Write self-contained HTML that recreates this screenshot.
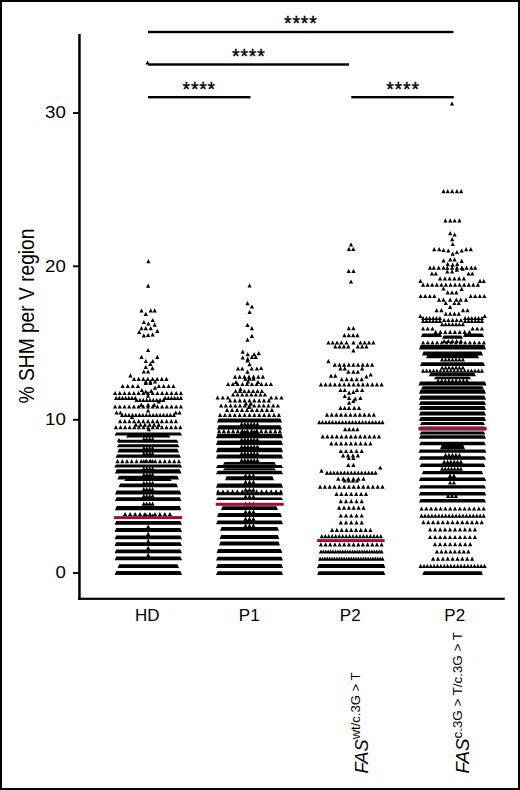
<!DOCTYPE html>
<html><head><meta charset="utf-8"><style>
html,body{margin:0;padding:0;background:#fff;}
body{width:520px;height:790px;overflow:hidden;position:relative;}
svg{position:absolute;left:0;top:0;}
text{font-family:"Liberation Sans",sans-serif;fill:#000;}
</style></head><body>
<svg width="520" height="790" viewBox="0 0 520 790">
<rect x="1" y="1" width="518" height="788" fill="#fff" stroke="#000" stroke-width="2"/>
<g fill="#000">
<rect x="78.2" y="34" width="2.5" height="566"/>
<rect x="78.2" y="597.7" width="426.5" height="2.2"/>
<rect x="73" y="112.1" width="6" height="1.9"/>
<rect x="73" y="265.35" width="6" height="1.9"/>
<rect x="73" y="418.85" width="6" height="1.9"/>
<rect x="73" y="572.1" width="6" height="1.9"/>
<rect x="148" y="30.8" width="305.5" height="2.4"/>
<rect x="148" y="63.3" width="201" height="2.4"/>
<rect x="148" y="96" width="102.5" height="2.4"/>
<rect x="351.3" y="96" width="102.5" height="2.4"/>
</g>
<path fill="#000" d="M146.3 263.2h4.2l-2.1 -4.2zM146.0 287.8h4.2l-2.1 -4.2zM139.4 312.6h4.2l-2.1 -4.2zM148.6 312.4h4.2l-2.1 -4.2zM152.6 312.4h4.2l-2.1 -4.2zM143.7 315.9h4.2l-2.1 -4.2zM150.6 322.1h4.2l-2.1 -4.2zM141.8 324.1h4.2l-2.1 -4.2zM146.3 325.6h4.2l-2.1 -4.2zM152.6 326.7h4.2l-2.1 -4.2zM139.4 330.3h4.2l-2.1 -4.2zM143.7 330.3h4.2l-2.1 -4.2zM148.6 330.3h4.2l-2.1 -4.2zM137.1 333.9h4.2l-2.1 -4.2zM155.2 332.9h4.2l-2.1 -4.2zM141.7 337.5h4.2l-2.1 -4.2zM146.0 337.1h4.2l-2.1 -4.2zM150.6 336.4h4.2l-2.1 -4.2zM146.0 352.1h4.2l-2.1 -4.2zM139.4 359.0h4.2l-2.1 -4.2zM155.2 359.0h4.2l-2.1 -4.2zM143.7 363.1h4.2l-2.1 -4.2zM150.6 363.1h4.2l-2.1 -4.2zM148.3 365.9h4.2l-2.1 -4.2zM143.7 369.0h4.2l-2.1 -4.2zM150.3 370.3h4.2l-2.1 -4.2zM141.7 373.6h4.2l-2.1 -4.2zM146.0 373.6h4.2l-2.1 -4.2zM128.3 377.4h4.2l-2.1 -4.2zM143.7 383.6h4.2l-2.1 -4.2zM148.3 383.6h4.2l-2.1 -4.2zM152.9 383.6h4.2l-2.1 -4.2zM143.7 385.1h4.2l-2.1 -4.2zM148.3 385.1h4.2l-2.1 -4.2zM152.9 389.8h4.2l-2.1 -4.2zM139.8 392.1h4.2l-2.1 -4.2zM143.7 393.6h4.2l-2.1 -4.2zM149.1 392.9h4.2l-2.1 -4.2zM145.9 397.7h4.2l-2.1 -4.2zM156.7 403.6h4.2l-2.1 -4.2zM139.1 406.7h4.2l-2.1 -4.2zM146.0 406.7h4.2l-2.1 -4.2zM152.1 406.7h4.2l-2.1 -4.2zM146.0 412.6h4.2l-2.1 -4.2zM114.4 414.6h4.2l-2.1 -4.2zM118.3 414.6h4.2l-2.1 -4.2zM173.7 414.6h4.2l-2.1 -4.2zM177.5 414.6h4.2l-2.1 -4.2zM129.9 418.9h4.2l-2.1 -4.2zM146.7 431.3h4.2l-2.1 -4.2zM116.9 441.9h4.2l-2.1 -4.2zM145.4 64.6h4.2l-2.1 -4.2zM132.0 380.9h4.2l-2.1 -4.2zM136.6 380.9h4.2l-2.1 -4.2zM141.2 380.9h4.2l-2.1 -4.2zM145.8 380.9h4.2l-2.1 -4.2zM150.5 380.9h4.2l-2.1 -4.2zM155.1 380.9h4.2l-2.1 -4.2zM159.7 380.9h4.2l-2.1 -4.2zM164.3 380.9h4.2l-2.1 -4.2zM120.5 388.1h4.2l-2.1 -4.2zM125.6 388.1h4.2l-2.1 -4.2zM130.7 388.1h4.2l-2.1 -4.2zM135.8 388.1h4.2l-2.1 -4.2zM156.8 388.1h4.2l-2.1 -4.2zM161.6 388.1h4.2l-2.1 -4.2zM166.5 388.1h4.2l-2.1 -4.2zM171.3 388.1h4.2l-2.1 -4.2zM113.0 395.1h4.2l-2.1 -4.2zM117.7 395.1h4.2l-2.1 -4.2zM122.4 395.1h4.2l-2.1 -4.2zM127.1 395.1h4.2l-2.1 -4.2zM131.8 395.1h4.2l-2.1 -4.2zM136.5 395.1h4.2l-2.1 -4.2zM141.2 395.1h4.2l-2.1 -4.2zM145.9 395.1h4.2l-2.1 -4.2zM150.6 395.1h4.2l-2.1 -4.2zM155.3 395.1h4.2l-2.1 -4.2zM160.0 395.1h4.2l-2.1 -4.2zM164.7 395.1h4.2l-2.1 -4.2zM169.4 395.1h4.2l-2.1 -4.2zM174.1 395.1h4.2l-2.1 -4.2zM178.8 395.1h4.2l-2.1 -4.2zM114.0 399.9h4.2l-2.1 -4.2zM117.2 399.9h4.2l-2.1 -4.2zM120.4 399.9h4.2l-2.1 -4.2zM123.6 399.9h4.2l-2.1 -4.2zM126.7 399.9h4.2l-2.1 -4.2zM129.9 399.9h4.2l-2.1 -4.2zM133.1 399.9h4.2l-2.1 -4.2zM163.0 399.9h4.2l-2.1 -4.2zM166.2 399.9h4.2l-2.1 -4.2zM169.3 399.9h4.2l-2.1 -4.2zM172.5 399.9h4.2l-2.1 -4.2zM175.6 399.9h4.2l-2.1 -4.2zM178.8 399.9h4.2l-2.1 -4.2zM134.5 401.9h4.2l-2.1 -4.2zM137.8 401.9h4.2l-2.1 -4.2zM141.2 401.9h4.2l-2.1 -4.2zM144.6 401.9h4.2l-2.1 -4.2zM147.9 401.9h4.2l-2.1 -4.2zM151.2 401.9h4.2l-2.1 -4.2zM154.6 401.9h4.2l-2.1 -4.2zM158.0 401.9h4.2l-2.1 -4.2zM161.3 401.9h4.2l-2.1 -4.2zM113.0 408.6h4.2l-2.1 -4.2zM117.7 408.6h4.2l-2.1 -4.2zM122.4 408.6h4.2l-2.1 -4.2zM127.1 408.6h4.2l-2.1 -4.2zM131.8 408.6h4.2l-2.1 -4.2zM136.5 408.6h4.2l-2.1 -4.2zM141.2 408.6h4.2l-2.1 -4.2zM145.9 408.6h4.2l-2.1 -4.2zM150.6 408.6h4.2l-2.1 -4.2zM155.3 408.6h4.2l-2.1 -4.2zM160.0 408.6h4.2l-2.1 -4.2zM164.7 408.6h4.2l-2.1 -4.2zM169.4 408.6h4.2l-2.1 -4.2zM174.1 408.6h4.2l-2.1 -4.2zM178.8 408.6h4.2l-2.1 -4.2zM120.0 416.9h4.2l-2.1 -4.2zM123.5 416.9h4.2l-2.1 -4.2zM126.9 416.9h4.2l-2.1 -4.2zM130.4 416.9h4.2l-2.1 -4.2zM133.8 416.9h4.2l-2.1 -4.2zM137.3 416.9h4.2l-2.1 -4.2zM140.7 416.9h4.2l-2.1 -4.2zM144.2 416.9h4.2l-2.1 -4.2zM147.6 416.9h4.2l-2.1 -4.2zM151.1 416.9h4.2l-2.1 -4.2zM154.5 416.9h4.2l-2.1 -4.2zM158.0 416.9h4.2l-2.1 -4.2zM161.4 416.9h4.2l-2.1 -4.2zM164.9 416.9h4.2l-2.1 -4.2zM168.3 416.9h4.2l-2.1 -4.2zM171.8 416.9h4.2l-2.1 -4.2zM118.0 423.3h4.2l-2.1 -4.2zM122.7 423.3h4.2l-2.1 -4.2zM127.3 423.3h4.2l-2.1 -4.2zM132.0 423.3h4.2l-2.1 -4.2zM136.6 423.3h4.2l-2.1 -4.2zM141.2 423.3h4.2l-2.1 -4.2zM145.9 423.3h4.2l-2.1 -4.2zM150.6 423.3h4.2l-2.1 -4.2zM155.2 423.3h4.2l-2.1 -4.2zM159.8 423.3h4.2l-2.1 -4.2zM164.5 423.3h4.2l-2.1 -4.2zM169.2 423.3h4.2l-2.1 -4.2zM173.8 423.3h4.2l-2.1 -4.2zM133.8 426.7h4.2l-2.1 -4.2zM138.4 426.7h4.2l-2.1 -4.2zM142.9 426.7h4.2l-2.1 -4.2zM147.5 426.7h4.2l-2.1 -4.2zM152.0 426.7h4.2l-2.1 -4.2zM156.6 426.7h4.2l-2.1 -4.2zM113.8 429.3h4.2l-2.1 -4.2zM118.4 429.3h4.2l-2.1 -4.2zM123.0 429.3h4.2l-2.1 -4.2zM127.6 429.3h4.2l-2.1 -4.2zM132.2 429.3h4.2l-2.1 -4.2zM136.8 429.3h4.2l-2.1 -4.2zM141.4 429.3h4.2l-2.1 -4.2zM146.0 429.3h4.2l-2.1 -4.2zM150.6 429.3h4.2l-2.1 -4.2zM155.2 429.3h4.2l-2.1 -4.2zM159.8 429.3h4.2l-2.1 -4.2zM164.4 429.3h4.2l-2.1 -4.2zM169.0 429.3h4.2l-2.1 -4.2zM173.6 429.3h4.2l-2.1 -4.2zM178.2 429.3h4.2l-2.1 -4.2zM115.5 463.3h4.2l-2.1 -4.2zM120.2 463.3h4.2l-2.1 -4.2zM124.9 463.3h4.2l-2.1 -4.2zM129.6 463.3h4.2l-2.1 -4.2zM134.4 463.3h4.2l-2.1 -4.2zM139.1 463.3h4.2l-2.1 -4.2zM143.8 463.3h4.2l-2.1 -4.2zM148.5 463.3h4.2l-2.1 -4.2zM153.2 463.3h4.2l-2.1 -4.2zM157.9 463.3h4.2l-2.1 -4.2zM162.7 463.3h4.2l-2.1 -4.2zM167.4 463.3h4.2l-2.1 -4.2zM172.1 463.3h4.2l-2.1 -4.2zM176.8 463.3h4.2l-2.1 -4.2zM123.0 516.1h4.2l-2.1 -4.2zM128.0 516.1h4.2l-2.1 -4.2zM133.0 516.1h4.2l-2.1 -4.2zM137.9 516.1h4.2l-2.1 -4.2zM142.9 516.1h4.2l-2.1 -4.2zM147.9 516.1h4.2l-2.1 -4.2zM152.9 516.1h4.2l-2.1 -4.2zM157.8 516.1h4.2l-2.1 -4.2zM162.8 516.1h4.2l-2.1 -4.2zM167.8 516.1h4.2l-2.1 -4.2zM141.7 440.9h4.2l-2.1 -4.2zM144.6 440.9h4.2l-2.1 -4.2zM147.6 440.9h4.2l-2.1 -4.2zM150.5 440.9h4.2l-2.1 -4.2zM141.7 450.3h4.2l-2.1 -4.2zM144.6 450.3h4.2l-2.1 -4.2zM147.6 450.3h4.2l-2.1 -4.2zM150.5 450.3h4.2l-2.1 -4.2zM141.7 455.5h4.2l-2.1 -4.2zM144.6 455.5h4.2l-2.1 -4.2zM147.6 455.5h4.2l-2.1 -4.2zM150.5 455.5h4.2l-2.1 -4.2zM141.7 463.2h4.2l-2.1 -4.2zM144.6 463.2h4.2l-2.1 -4.2zM147.6 463.2h4.2l-2.1 -4.2zM150.5 463.2h4.2l-2.1 -4.2zM141.7 470.8h4.2l-2.1 -4.2zM144.6 470.8h4.2l-2.1 -4.2zM147.6 470.8h4.2l-2.1 -4.2zM150.5 470.8h4.2l-2.1 -4.2zM141.7 476.6h4.2l-2.1 -4.2zM144.6 476.6h4.2l-2.1 -4.2zM147.6 476.6h4.2l-2.1 -4.2zM150.5 476.6h4.2l-2.1 -4.2zM141.7 484.9h4.2l-2.1 -4.2zM144.6 484.9h4.2l-2.1 -4.2zM147.6 484.9h4.2l-2.1 -4.2zM150.5 484.9h4.2l-2.1 -4.2zM141.7 491.1h4.2l-2.1 -4.2zM144.6 491.1h4.2l-2.1 -4.2zM147.6 491.1h4.2l-2.1 -4.2zM150.5 491.1h4.2l-2.1 -4.2zM141.7 498.0h4.2l-2.1 -4.2zM144.6 498.0h4.2l-2.1 -4.2zM147.6 498.0h4.2l-2.1 -4.2zM150.5 498.0h4.2l-2.1 -4.2zM141.7 505.8h4.2l-2.1 -4.2zM144.6 505.8h4.2l-2.1 -4.2zM147.6 505.8h4.2l-2.1 -4.2zM150.5 505.8h4.2l-2.1 -4.2zM141.7 517.6h4.2l-2.1 -4.2zM144.6 517.6h4.2l-2.1 -4.2zM147.6 517.6h4.2l-2.1 -4.2zM150.5 517.6h4.2l-2.1 -4.2zM146.1 528.6h4.2l-2.1 -4.2zM146.1 535.8h4.2l-2.1 -4.2zM146.1 542.9h4.2l-2.1 -4.2zM146.1 549.9h4.2l-2.1 -4.2zM146.1 556.9h4.2l-2.1 -4.2zM114.6 435.4H182.0L180.4 432.6H116.2zM126.0 437.5H170.5L168.9 435.3H127.6zM118.0 442.7H178.5L176.9 439.7H119.6zM117.0 447.2H179.5L177.9 444.2H118.6zM117.4 452.6H179.0L177.4 448.8H119.0zM115.5 457.8H181.0L179.4 454.4H117.1zM114.3 467.5H182.1L180.5 464.5H115.9zM115.0 473.4H181.4L179.8 469.2H116.6zM117.4 479.6H179.0L177.4 475.8H119.0zM124.0 481.0H172.0L170.4 479.4H125.6zM118.5 487.3H178.0L176.4 483.5H120.1zM115.0 494.6H181.4L179.8 490.4H116.6zM115.0 501.1H181.4L179.8 497.2H116.6zM115.0 510.3H181.4L179.8 505.9H116.6zM114.6 524.8H182.0L180.4 521.0H116.2zM114.6 531.9H182.0L180.4 528.1H116.2zM114.6 539.2H182.0L180.4 535.4H116.2zM114.6 546.1H182.0L180.4 542.3H116.2zM114.6 553.2H182.0L180.4 549.4H116.2zM114.6 560.3H182.0L180.4 556.5H116.2zM117.6 568.1H179.0L177.4 564.3H119.2zM114.6 574.9H182.0L180.4 571.1H116.2zM247.5 287.5h4.2l-2.1 -4.2zM245.4 305.2h4.2l-2.1 -4.2zM249.8 308.6h4.2l-2.1 -4.2zM247.5 314.0h4.2l-2.1 -4.2zM245.4 326.9h4.2l-2.1 -4.2zM249.8 330.2h4.2l-2.1 -4.2zM249.8 337.9h4.2l-2.1 -4.2zM245.4 341.7h4.2l-2.1 -4.2zM240.6 353.8h4.2l-2.1 -4.2zM245.6 356.3h4.2l-2.1 -4.2zM252.1 356.3h4.2l-2.1 -4.2zM256.6 355.2h4.2l-2.1 -4.2zM240.6 359.6h4.2l-2.1 -4.2zM245.6 360.9h4.2l-2.1 -4.2zM249.8 359.0h4.2l-2.1 -4.2zM253.7 359.0h4.2l-2.1 -4.2zM245.4 362.6h4.2l-2.1 -4.2zM247.5 366.3h4.2l-2.1 -4.2zM235.9 370.6h4.2l-2.1 -4.2zM240.1 370.6h4.2l-2.1 -4.2zM249.6 370.6h4.2l-2.1 -4.2zM254.8 370.6h4.2l-2.1 -4.2zM259.1 370.1h4.2l-2.1 -4.2zM245.4 373.7h4.2l-2.1 -4.2zM243.3 380.8h4.2l-2.1 -4.2zM247.4 380.8h4.2l-2.1 -4.2zM251.5 380.8h4.2l-2.1 -4.2zM238.3 391.0h4.2l-2.1 -4.2zM233.9 384.1h4.2l-2.1 -4.2zM245.9 383.6h4.2l-2.1 -4.2zM255.9 384.1h4.2l-2.1 -4.2zM243.9 405.6h4.2l-2.1 -4.2zM248.9 405.6h4.2l-2.1 -4.2zM246.9 409.1h4.2l-2.1 -4.2zM233.0 378.7h4.2l-2.1 -4.2zM237.6 378.7h4.2l-2.1 -4.2zM242.3 378.7h4.2l-2.1 -4.2zM246.9 378.7h4.2l-2.1 -4.2zM251.5 378.7h4.2l-2.1 -4.2zM256.2 378.7h4.2l-2.1 -4.2zM260.8 378.7h4.2l-2.1 -4.2zM226.0 386.1h4.2l-2.1 -4.2zM230.8 386.1h4.2l-2.1 -4.2zM235.5 386.1h4.2l-2.1 -4.2zM240.3 386.1h4.2l-2.1 -4.2zM245.0 386.1h4.2l-2.1 -4.2zM249.8 386.1h4.2l-2.1 -4.2zM254.5 386.1h4.2l-2.1 -4.2zM259.3 386.1h4.2l-2.1 -4.2zM264.0 386.1h4.2l-2.1 -4.2zM268.8 386.1h4.2l-2.1 -4.2zM233.5 393.1h4.2l-2.1 -4.2zM237.9 393.1h4.2l-2.1 -4.2zM242.3 393.1h4.2l-2.1 -4.2zM246.7 393.1h4.2l-2.1 -4.2zM251.0 393.1h4.2l-2.1 -4.2zM255.4 393.1h4.2l-2.1 -4.2zM259.8 393.1h4.2l-2.1 -4.2zM231.0 396.6h4.2l-2.1 -4.2zM235.5 396.6h4.2l-2.1 -4.2zM240.1 396.6h4.2l-2.1 -4.2zM244.6 396.6h4.2l-2.1 -4.2zM249.2 396.6h4.2l-2.1 -4.2zM253.7 396.6h4.2l-2.1 -4.2zM258.3 396.6h4.2l-2.1 -4.2zM262.8 396.6h4.2l-2.1 -4.2zM215.5 399.6h4.2l-2.1 -4.2zM220.7 399.6h4.2l-2.1 -4.2zM225.8 399.6h4.2l-2.1 -4.2zM269.0 399.6h4.2l-2.1 -4.2zM274.1 399.6h4.2l-2.1 -4.2zM279.3 399.6h4.2l-2.1 -4.2zM228.0 402.4h4.2l-2.1 -4.2zM232.8 402.4h4.2l-2.1 -4.2zM237.7 402.4h4.2l-2.1 -4.2zM242.5 402.4h4.2l-2.1 -4.2zM247.4 402.4h4.2l-2.1 -4.2zM252.2 402.4h4.2l-2.1 -4.2zM257.1 402.4h4.2l-2.1 -4.2zM261.9 402.4h4.2l-2.1 -4.2zM266.8 402.4h4.2l-2.1 -4.2zM219.0 407.6h4.2l-2.1 -4.2zM223.7 407.6h4.2l-2.1 -4.2zM228.5 407.6h4.2l-2.1 -4.2zM233.2 407.6h4.2l-2.1 -4.2zM237.9 407.6h4.2l-2.1 -4.2zM242.7 407.6h4.2l-2.1 -4.2zM247.4 407.6h4.2l-2.1 -4.2zM252.1 407.6h4.2l-2.1 -4.2zM256.9 407.6h4.2l-2.1 -4.2zM261.6 407.6h4.2l-2.1 -4.2zM266.3 407.6h4.2l-2.1 -4.2zM271.1 407.6h4.2l-2.1 -4.2zM275.8 407.6h4.2l-2.1 -4.2zM225.0 411.9h4.2l-2.1 -4.2zM230.0 411.9h4.2l-2.1 -4.2zM235.0 411.9h4.2l-2.1 -4.2zM239.9 411.9h4.2l-2.1 -4.2zM244.9 411.9h4.2l-2.1 -4.2zM249.9 411.9h4.2l-2.1 -4.2zM254.9 411.9h4.2l-2.1 -4.2zM259.8 411.9h4.2l-2.1 -4.2zM264.8 411.9h4.2l-2.1 -4.2zM269.8 411.9h4.2l-2.1 -4.2zM218.0 416.9h4.2l-2.1 -4.2zM222.9 416.9h4.2l-2.1 -4.2zM227.8 416.9h4.2l-2.1 -4.2zM232.7 416.9h4.2l-2.1 -4.2zM237.6 416.9h4.2l-2.1 -4.2zM242.5 416.9h4.2l-2.1 -4.2zM247.4 416.9h4.2l-2.1 -4.2zM252.3 416.9h4.2l-2.1 -4.2zM257.2 416.9h4.2l-2.1 -4.2zM262.1 416.9h4.2l-2.1 -4.2zM267.0 416.9h4.2l-2.1 -4.2zM271.9 416.9h4.2l-2.1 -4.2zM276.8 416.9h4.2l-2.1 -4.2zM217.0 433.3h4.2l-2.1 -4.2zM221.7 433.3h4.2l-2.1 -4.2zM226.4 433.3h4.2l-2.1 -4.2zM231.0 433.3h4.2l-2.1 -4.2zM235.7 433.3h4.2l-2.1 -4.2zM240.4 433.3h4.2l-2.1 -4.2zM245.1 433.3h4.2l-2.1 -4.2zM249.7 433.3h4.2l-2.1 -4.2zM254.4 433.3h4.2l-2.1 -4.2zM259.1 433.3h4.2l-2.1 -4.2zM263.8 433.3h4.2l-2.1 -4.2zM268.4 433.3h4.2l-2.1 -4.2zM273.1 433.3h4.2l-2.1 -4.2zM277.8 433.3h4.2l-2.1 -4.2zM216.0 493.5h4.2l-2.1 -4.2zM220.8 493.5h4.2l-2.1 -4.2zM225.7 493.5h4.2l-2.1 -4.2zM230.5 493.5h4.2l-2.1 -4.2zM235.3 493.5h4.2l-2.1 -4.2zM240.2 493.5h4.2l-2.1 -4.2zM245.0 493.5h4.2l-2.1 -4.2zM249.8 493.5h4.2l-2.1 -4.2zM254.6 493.5h4.2l-2.1 -4.2zM259.5 493.5h4.2l-2.1 -4.2zM264.3 493.5h4.2l-2.1 -4.2zM269.1 493.5h4.2l-2.1 -4.2zM274.0 493.5h4.2l-2.1 -4.2zM278.8 493.5h4.2l-2.1 -4.2zM239.5 426.0h4.2l-2.1 -4.2zM242.7 426.0h4.2l-2.1 -4.2zM245.8 426.0h4.2l-2.1 -4.2zM249.0 426.0h4.2l-2.1 -4.2zM252.1 426.0h4.2l-2.1 -4.2zM255.3 426.0h4.2l-2.1 -4.2zM239.5 433.8h4.2l-2.1 -4.2zM242.7 433.8h4.2l-2.1 -4.2zM245.8 433.8h4.2l-2.1 -4.2zM249.0 433.8h4.2l-2.1 -4.2zM252.1 433.8h4.2l-2.1 -4.2zM255.3 433.8h4.2l-2.1 -4.2zM239.5 441.5h4.2l-2.1 -4.2zM242.7 441.5h4.2l-2.1 -4.2zM245.8 441.5h4.2l-2.1 -4.2zM249.0 441.5h4.2l-2.1 -4.2zM252.1 441.5h4.2l-2.1 -4.2zM255.3 441.5h4.2l-2.1 -4.2zM239.5 448.5h4.2l-2.1 -4.2zM242.7 448.5h4.2l-2.1 -4.2zM245.8 448.5h4.2l-2.1 -4.2zM249.0 448.5h4.2l-2.1 -4.2zM252.1 448.5h4.2l-2.1 -4.2zM255.3 448.5h4.2l-2.1 -4.2zM239.5 455.4h4.2l-2.1 -4.2zM242.7 455.4h4.2l-2.1 -4.2zM245.8 455.4h4.2l-2.1 -4.2zM249.0 455.4h4.2l-2.1 -4.2zM252.1 455.4h4.2l-2.1 -4.2zM255.3 455.4h4.2l-2.1 -4.2zM239.5 462.1h4.2l-2.1 -4.2zM242.7 462.1h4.2l-2.1 -4.2zM245.8 462.1h4.2l-2.1 -4.2zM249.0 462.1h4.2l-2.1 -4.2zM252.1 462.1h4.2l-2.1 -4.2zM255.3 462.1h4.2l-2.1 -4.2zM243.5 477.5h4.2l-2.1 -4.2zM247.4 477.5h4.2l-2.1 -4.2zM251.3 477.5h4.2l-2.1 -4.2zM243.5 484.0h4.2l-2.1 -4.2zM247.4 484.0h4.2l-2.1 -4.2zM251.3 484.0h4.2l-2.1 -4.2zM243.5 491.8h4.2l-2.1 -4.2zM247.4 491.8h4.2l-2.1 -4.2zM251.3 491.8h4.2l-2.1 -4.2zM243.5 498.4h4.2l-2.1 -4.2zM247.4 498.4h4.2l-2.1 -4.2zM251.3 498.4h4.2l-2.1 -4.2zM243.5 505.6h4.2l-2.1 -4.2zM247.4 505.6h4.2l-2.1 -4.2zM251.3 505.6h4.2l-2.1 -4.2zM243.5 513.6h4.2l-2.1 -4.2zM247.4 513.6h4.2l-2.1 -4.2zM251.3 513.6h4.2l-2.1 -4.2zM243.5 520.8h4.2l-2.1 -4.2zM247.4 520.8h4.2l-2.1 -4.2zM251.3 520.8h4.2l-2.1 -4.2zM243.5 527.6h4.2l-2.1 -4.2zM247.4 527.6h4.2l-2.1 -4.2zM251.3 527.6h4.2l-2.1 -4.2zM217.0 422.6H282.0L280.4 418.4H218.6zM217.0 429.4H282.0L280.4 425.2H218.6zM216.0 438.2H283.0L281.4 433.8H217.6zM216.0 445.1H283.0L281.4 440.6H217.6zM216.0 452.3H283.0L281.4 447.7H217.6zM216.0 458.6H283.0L281.4 454.4H217.6zM223.0 464.7H276.0L274.4 462.1H224.6zM216.0 468.0H283.0L281.4 465.0H217.6zM223.0 470.3H276.0L274.4 468.3H224.6zM216.0 474.2H283.0L281.4 470.8H217.6zM225.0 480.2H274.0L272.4 476.2H226.6zM216.0 487.7H283.0L281.4 483.5H217.6zM216.0 495.3H283.0L281.4 492.3H217.6zM216.0 500.1H283.0L281.4 497.5H217.6zM221.0 510.0H278.0L276.4 506.2H222.6zM217.0 516.9H282.0L280.4 513.1H218.6zM216.0 524.2H283.0L281.4 520.4H217.6zM220.0 530.7H279.0L277.4 526.9H221.6zM219.6 538.9H279.4L277.8 535.1H221.2zM219.0 545.4H280.0L278.4 541.6H220.6zM216.6 552.9H282.4L280.8 549.1H218.2zM216.0 560.6H283.0L281.4 556.8H217.6zM216.0 567.9H283.0L281.4 564.1H217.6zM216.0 575.1H283.0L281.4 571.3H217.6zM348.9 246.5h4.2l-2.1 -4.2zM346.9 250.9h4.2l-2.1 -4.2zM351.2 250.9h4.2l-2.1 -4.2zM346.6 272.9h4.2l-2.1 -4.2zM351.4 272.9h4.2l-2.1 -4.2zM348.9 283.6h4.2l-2.1 -4.2zM346.7 330.3h4.2l-2.1 -4.2zM351.3 330.3h4.2l-2.1 -4.2zM342.3 337.3h4.2l-2.1 -4.2zM346.7 337.3h4.2l-2.1 -4.2zM351.0 337.3h4.2l-2.1 -4.2zM355.3 337.3h4.2l-2.1 -4.2zM326.3 344.6h4.2l-2.1 -4.2zM330.6 344.6h4.2l-2.1 -4.2zM334.9 344.6h4.2l-2.1 -4.2zM339.2 344.6h4.2l-2.1 -4.2zM344.4 344.6h4.2l-2.1 -4.2zM351.3 344.6h4.2l-2.1 -4.2zM358.3 344.6h4.2l-2.1 -4.2zM362.6 344.6h4.2l-2.1 -4.2zM366.9 344.6h4.2l-2.1 -4.2zM371.2 344.6h4.2l-2.1 -4.2zM333.2 348.4h4.2l-2.1 -4.2zM337.5 348.4h4.2l-2.1 -4.2zM341.8 348.4h4.2l-2.1 -4.2zM346.2 348.4h4.2l-2.1 -4.2zM355.7 348.4h4.2l-2.1 -4.2zM360.0 348.4h4.2l-2.1 -4.2zM364.3 348.4h4.2l-2.1 -4.2zM351.3 352.4h4.2l-2.1 -4.2zM326.3 363.3h4.2l-2.1 -4.2zM338.4 370.5h4.2l-2.1 -4.2zM342.7 370.5h4.2l-2.1 -4.2zM360.0 370.5h4.2l-2.1 -4.2zM346.2 373.7h4.2l-2.1 -4.2zM351.3 373.7h4.2l-2.1 -4.2zM355.7 373.7h4.2l-2.1 -4.2zM328.9 377.8h4.2l-2.1 -4.2zM333.2 377.8h4.2l-2.1 -4.2zM364.3 378.4h4.2l-2.1 -4.2zM368.6 376.6h4.2l-2.1 -4.2zM338.4 392.1h4.2l-2.1 -4.2zM342.7 392.1h4.2l-2.1 -4.2zM354.9 392.1h4.2l-2.1 -4.2zM360.0 392.1h4.2l-2.1 -4.2zM347.0 394.8h4.2l-2.1 -4.2zM351.3 393.9h4.2l-2.1 -4.2zM342.7 398.1h4.2l-2.1 -4.2zM347.0 399.9h4.2l-2.1 -4.2zM353.1 400.8h4.2l-2.1 -4.2zM358.3 399.9h4.2l-2.1 -4.2zM347.0 404.7h4.2l-2.1 -4.2zM351.3 403.0h4.2l-2.1 -4.2zM338.4 409.9h4.2l-2.1 -4.2zM342.6 409.9h4.2l-2.1 -4.2zM346.9 409.9h4.2l-2.1 -4.2zM352.1 409.9h4.2l-2.1 -4.2zM356.9 409.9h4.2l-2.1 -4.2zM346.7 460.1h4.2l-2.1 -4.2zM351.3 460.1h4.2l-2.1 -4.2zM346.2 467.0h4.2l-2.1 -4.2zM351.3 467.0h4.2l-2.1 -4.2zM319.3 472.7h4.2l-2.1 -4.2zM378.2 469.6h4.2l-2.1 -4.2zM342.7 482.6h4.2l-2.1 -4.2zM346.9 482.6h4.2l-2.1 -4.2zM350.9 482.6h4.2l-2.1 -4.2zM354.9 482.6h4.2l-2.1 -4.2zM332.7 366.7h4.2l-2.1 -4.2zM337.4 366.7h4.2l-2.1 -4.2zM342.0 366.7h4.2l-2.1 -4.2zM346.7 366.7h4.2l-2.1 -4.2zM351.3 366.7h4.2l-2.1 -4.2zM356.0 366.7h4.2l-2.1 -4.2zM360.7 366.7h4.2l-2.1 -4.2zM365.3 366.7h4.2l-2.1 -4.2zM370.0 366.7h4.2l-2.1 -4.2zM339.6 381.3h4.2l-2.1 -4.2zM344.6 381.3h4.2l-2.1 -4.2zM349.6 381.3h4.2l-2.1 -4.2zM354.6 381.3h4.2l-2.1 -4.2zM359.6 381.3h4.2l-2.1 -4.2zM318.8 386.5h4.2l-2.1 -4.2zM323.5 386.5h4.2l-2.1 -4.2zM328.1 386.5h4.2l-2.1 -4.2zM332.8 386.5h4.2l-2.1 -4.2zM337.5 386.5h4.2l-2.1 -4.2zM342.1 386.5h4.2l-2.1 -4.2zM346.8 386.5h4.2l-2.1 -4.2zM351.5 386.5h4.2l-2.1 -4.2zM356.2 386.5h4.2l-2.1 -4.2zM360.8 386.5h4.2l-2.1 -4.2zM365.5 386.5h4.2l-2.1 -4.2zM370.2 386.5h4.2l-2.1 -4.2zM374.8 386.5h4.2l-2.1 -4.2zM379.5 386.5h4.2l-2.1 -4.2zM324.9 416.8h4.2l-2.1 -4.2zM329.6 416.8h4.2l-2.1 -4.2zM334.3 416.8h4.2l-2.1 -4.2zM338.9 416.8h4.2l-2.1 -4.2zM343.6 416.8h4.2l-2.1 -4.2zM348.3 416.8h4.2l-2.1 -4.2zM353.0 416.8h4.2l-2.1 -4.2zM357.7 416.8h4.2l-2.1 -4.2zM362.3 416.8h4.2l-2.1 -4.2zM367.0 416.8h4.2l-2.1 -4.2zM371.7 416.8h4.2l-2.1 -4.2zM317.1 424.2h4.2l-2.1 -4.2zM320.4 424.2h4.2l-2.1 -4.2zM323.8 424.2h4.2l-2.1 -4.2zM327.1 424.2h4.2l-2.1 -4.2zM330.4 424.2h4.2l-2.1 -4.2zM333.8 424.2h4.2l-2.1 -4.2zM337.1 424.2h4.2l-2.1 -4.2zM340.4 424.2h4.2l-2.1 -4.2zM343.8 424.2h4.2l-2.1 -4.2zM347.1 424.2h4.2l-2.1 -4.2zM350.4 424.2h4.2l-2.1 -4.2zM353.7 424.2h4.2l-2.1 -4.2zM357.1 424.2h4.2l-2.1 -4.2zM360.4 424.2h4.2l-2.1 -4.2zM363.7 424.2h4.2l-2.1 -4.2zM367.1 424.2h4.2l-2.1 -4.2zM370.4 424.2h4.2l-2.1 -4.2zM373.7 424.2h4.2l-2.1 -4.2zM377.1 424.2h4.2l-2.1 -4.2zM380.4 424.2h4.2l-2.1 -4.2zM343.0 431.2h4.2l-2.1 -4.2zM347.1 431.2h4.2l-2.1 -4.2zM351.2 431.2h4.2l-2.1 -4.2zM355.3 431.2h4.2l-2.1 -4.2zM320.6 438.4h4.2l-2.1 -4.2zM325.3 438.4h4.2l-2.1 -4.2zM330.0 438.4h4.2l-2.1 -4.2zM334.7 438.4h4.2l-2.1 -4.2zM339.4 438.4h4.2l-2.1 -4.2zM344.1 438.4h4.2l-2.1 -4.2zM348.8 438.4h4.2l-2.1 -4.2zM353.4 438.4h4.2l-2.1 -4.2zM358.1 438.4h4.2l-2.1 -4.2zM362.8 438.4h4.2l-2.1 -4.2zM367.5 438.4h4.2l-2.1 -4.2zM372.2 438.4h4.2l-2.1 -4.2zM376.9 438.4h4.2l-2.1 -4.2zM329.2 445.4h4.2l-2.1 -4.2zM334.1 445.4h4.2l-2.1 -4.2zM339.0 445.4h4.2l-2.1 -4.2zM343.9 445.4h4.2l-2.1 -4.2zM348.8 445.4h4.2l-2.1 -4.2zM353.6 445.4h4.2l-2.1 -4.2zM358.5 445.4h4.2l-2.1 -4.2zM363.4 445.4h4.2l-2.1 -4.2zM368.3 445.4h4.2l-2.1 -4.2zM338.7 453.1h4.2l-2.1 -4.2zM343.9 453.1h4.2l-2.1 -4.2zM349.1 453.1h4.2l-2.1 -4.2zM354.4 453.1h4.2l-2.1 -4.2zM359.6 453.1h4.2l-2.1 -4.2zM341.0 457.5h4.2l-2.1 -4.2zM345.9 457.5h4.2l-2.1 -4.2zM350.9 457.5h4.2l-2.1 -4.2zM355.8 457.5h4.2l-2.1 -4.2zM324.9 474.8h4.2l-2.1 -4.2zM328.4 474.8h4.2l-2.1 -4.2zM331.8 474.8h4.2l-2.1 -4.2zM335.3 474.8h4.2l-2.1 -4.2zM338.8 474.8h4.2l-2.1 -4.2zM342.3 474.8h4.2l-2.1 -4.2zM345.7 474.8h4.2l-2.1 -4.2zM349.2 474.8h4.2l-2.1 -4.2zM352.7 474.8h4.2l-2.1 -4.2zM356.1 474.8h4.2l-2.1 -4.2zM359.6 474.8h4.2l-2.1 -4.2zM363.1 474.8h4.2l-2.1 -4.2zM366.6 474.8h4.2l-2.1 -4.2zM370.0 474.8h4.2l-2.1 -4.2zM373.5 474.8h4.2l-2.1 -4.2zM336.1 480.8h4.2l-2.1 -4.2zM341.2 480.8h4.2l-2.1 -4.2zM346.2 480.8h4.2l-2.1 -4.2zM351.3 480.8h4.2l-2.1 -4.2zM356.3 480.8h4.2l-2.1 -4.2zM361.4 480.8h4.2l-2.1 -4.2zM318.0 488.7h4.2l-2.1 -4.2zM322.8 488.7h4.2l-2.1 -4.2zM327.6 488.7h4.2l-2.1 -4.2zM332.4 488.7h4.2l-2.1 -4.2zM337.2 488.7h4.2l-2.1 -4.2zM342.0 488.7h4.2l-2.1 -4.2zM346.8 488.7h4.2l-2.1 -4.2zM351.6 488.7h4.2l-2.1 -4.2zM356.4 488.7h4.2l-2.1 -4.2zM361.2 488.7h4.2l-2.1 -4.2zM366.0 488.7h4.2l-2.1 -4.2zM370.8 488.7h4.2l-2.1 -4.2zM375.6 488.7h4.2l-2.1 -4.2zM380.4 488.7h4.2l-2.1 -4.2zM334.4 495.9h4.2l-2.1 -4.2zM339.3 495.9h4.2l-2.1 -4.2zM344.2 495.9h4.2l-2.1 -4.2zM349.1 495.9h4.2l-2.1 -4.2zM354.1 495.9h4.2l-2.1 -4.2zM359.0 495.9h4.2l-2.1 -4.2zM363.9 495.9h4.2l-2.1 -4.2zM338.7 503.2h4.2l-2.1 -4.2zM343.9 503.2h4.2l-2.1 -4.2zM349.1 503.2h4.2l-2.1 -4.2zM354.4 503.2h4.2l-2.1 -4.2zM359.6 503.2h4.2l-2.1 -4.2zM337.0 509.8h4.2l-2.1 -4.2zM341.9 509.8h4.2l-2.1 -4.2zM346.8 509.8h4.2l-2.1 -4.2zM351.6 509.8h4.2l-2.1 -4.2zM356.5 509.8h4.2l-2.1 -4.2zM361.4 509.8h4.2l-2.1 -4.2zM338.7 517.6h4.2l-2.1 -4.2zM343.9 517.6h4.2l-2.1 -4.2zM349.1 517.6h4.2l-2.1 -4.2zM354.4 517.6h4.2l-2.1 -4.2zM359.6 517.6h4.2l-2.1 -4.2zM338.7 524.5h4.2l-2.1 -4.2zM343.9 524.5h4.2l-2.1 -4.2zM349.1 524.5h4.2l-2.1 -4.2zM354.4 524.5h4.2l-2.1 -4.2zM359.6 524.5h4.2l-2.1 -4.2zM330.0 531.9h4.2l-2.1 -4.2zM334.8 531.9h4.2l-2.1 -4.2zM339.6 531.9h4.2l-2.1 -4.2zM344.4 531.9h4.2l-2.1 -4.2zM349.1 531.9h4.2l-2.1 -4.2zM353.9 531.9h4.2l-2.1 -4.2zM358.7 531.9h4.2l-2.1 -4.2zM363.5 531.9h4.2l-2.1 -4.2zM368.3 531.9h4.2l-2.1 -4.2zM319.7 538.3h4.2l-2.1 -4.2zM323.2 538.3h4.2l-2.1 -4.2zM326.6 538.3h4.2l-2.1 -4.2zM330.1 538.3h4.2l-2.1 -4.2zM333.6 538.3h4.2l-2.1 -4.2zM337.1 538.3h4.2l-2.1 -4.2zM340.5 538.3h4.2l-2.1 -4.2zM344.0 538.3h4.2l-2.1 -4.2zM347.5 538.3h4.2l-2.1 -4.2zM350.9 538.3h4.2l-2.1 -4.2zM354.4 538.3h4.2l-2.1 -4.2zM357.9 538.3h4.2l-2.1 -4.2zM361.3 538.3h4.2l-2.1 -4.2zM364.8 538.3h4.2l-2.1 -4.2zM368.3 538.3h4.2l-2.1 -4.2zM371.8 538.3h4.2l-2.1 -4.2zM375.2 538.3h4.2l-2.1 -4.2zM378.7 538.3h4.2l-2.1 -4.2zM318.8 546.5h4.2l-2.1 -4.2zM323.5 546.5h4.2l-2.1 -4.2zM328.1 546.5h4.2l-2.1 -4.2zM332.8 546.5h4.2l-2.1 -4.2zM337.5 546.5h4.2l-2.1 -4.2zM342.1 546.5h4.2l-2.1 -4.2zM346.8 546.5h4.2l-2.1 -4.2zM351.5 546.5h4.2l-2.1 -4.2zM356.2 546.5h4.2l-2.1 -4.2zM360.8 546.5h4.2l-2.1 -4.2zM365.5 546.5h4.2l-2.1 -4.2zM370.2 546.5h4.2l-2.1 -4.2zM374.8 546.5h4.2l-2.1 -4.2zM379.5 546.5h4.2l-2.1 -4.2zM318.8 553.6h4.2l-2.1 -4.2zM321.2 553.6h4.2l-2.1 -4.2zM323.7 553.6h4.2l-2.1 -4.2zM326.1 553.6h4.2l-2.1 -4.2zM328.5 553.6h4.2l-2.1 -4.2zM330.9 553.6h4.2l-2.1 -4.2zM333.4 553.6h4.2l-2.1 -4.2zM335.8 553.6h4.2l-2.1 -4.2zM338.2 553.6h4.2l-2.1 -4.2zM340.7 553.6h4.2l-2.1 -4.2zM343.1 553.6h4.2l-2.1 -4.2zM345.5 553.6h4.2l-2.1 -4.2zM347.9 553.6h4.2l-2.1 -4.2zM350.4 553.6h4.2l-2.1 -4.2zM352.8 553.6h4.2l-2.1 -4.2zM355.2 553.6h4.2l-2.1 -4.2zM357.6 553.6h4.2l-2.1 -4.2zM360.1 553.6h4.2l-2.1 -4.2zM362.5 553.6h4.2l-2.1 -4.2zM364.9 553.6h4.2l-2.1 -4.2zM367.4 553.6h4.2l-2.1 -4.2zM369.8 553.6h4.2l-2.1 -4.2zM372.2 553.6h4.2l-2.1 -4.2zM374.6 553.6h4.2l-2.1 -4.2zM377.1 553.6h4.2l-2.1 -4.2zM379.5 553.6h4.2l-2.1 -4.2zM318.0 560.8h4.2l-2.1 -4.2zM320.4 560.8h4.2l-2.1 -4.2zM322.8 560.8h4.2l-2.1 -4.2zM325.2 560.8h4.2l-2.1 -4.2zM327.6 560.8h4.2l-2.1 -4.2zM330.0 560.8h4.2l-2.1 -4.2zM332.4 560.8h4.2l-2.1 -4.2zM334.8 560.8h4.2l-2.1 -4.2zM337.2 560.8h4.2l-2.1 -4.2zM339.6 560.8h4.2l-2.1 -4.2zM342.0 560.8h4.2l-2.1 -4.2zM344.4 560.8h4.2l-2.1 -4.2zM346.8 560.8h4.2l-2.1 -4.2zM349.2 560.8h4.2l-2.1 -4.2zM351.6 560.8h4.2l-2.1 -4.2zM354.0 560.8h4.2l-2.1 -4.2zM356.4 560.8h4.2l-2.1 -4.2zM358.8 560.8h4.2l-2.1 -4.2zM361.2 560.8h4.2l-2.1 -4.2zM363.6 560.8h4.2l-2.1 -4.2zM366.0 560.8h4.2l-2.1 -4.2zM368.4 560.8h4.2l-2.1 -4.2zM370.8 560.8h4.2l-2.1 -4.2zM373.2 560.8h4.2l-2.1 -4.2zM375.6 560.8h4.2l-2.1 -4.2zM378.0 560.8h4.2l-2.1 -4.2zM380.4 560.8h4.2l-2.1 -4.2zM317.1 567.9H385.4L383.8 564.1H318.7zM317.1 575.0H385.4L383.8 571.2H318.7zM449.9 105.6h4.2l-2.1 -4.2zM441.4 193.3h4.2l-2.1 -4.2zM445.6 193.3h4.2l-2.1 -4.2zM450.0 193.3h4.2l-2.1 -4.2zM454.8 193.3h4.2l-2.1 -4.2zM459.1 193.3h4.2l-2.1 -4.2zM443.3 222.5h4.2l-2.1 -4.2zM448.1 222.5h4.2l-2.1 -4.2zM452.5 222.5h4.2l-2.1 -4.2zM457.3 222.5h4.2l-2.1 -4.2zM448.1 235.2h4.2l-2.1 -4.2zM452.5 236.5h4.2l-2.1 -4.2zM450.0 241.3h4.2l-2.1 -4.2zM450.6 246.1h4.2l-2.1 -4.2zM432.1 251.3h4.2l-2.1 -4.2zM437.1 251.3h4.2l-2.1 -4.2zM441.4 252.1h4.2l-2.1 -4.2zM446.2 252.6h4.2l-2.1 -4.2zM454.8 254.1h4.2l-2.1 -4.2zM459.6 252.6h4.2l-2.1 -4.2zM464.1 251.3h4.2l-2.1 -4.2zM468.7 251.3h4.2l-2.1 -4.2zM450.6 255.8h4.2l-2.1 -4.2zM441.4 262.5h4.2l-2.1 -4.2zM448.1 261.5h4.2l-2.1 -4.2zM452.5 261.5h4.2l-2.1 -4.2zM459.6 262.9h4.2l-2.1 -4.2zM445.6 265.9h4.2l-2.1 -4.2zM450.6 266.7h4.2l-2.1 -4.2zM455.2 265.9h4.2l-2.1 -4.2zM427.9 269.8h4.2l-2.1 -4.2zM431.7 269.8h4.2l-2.1 -4.2zM436.6 269.8h4.2l-2.1 -4.2zM441.4 269.8h4.2l-2.1 -4.2zM445.2 269.8h4.2l-2.1 -4.2zM450.0 269.8h4.2l-2.1 -4.2zM454.8 269.8h4.2l-2.1 -4.2zM459.6 269.8h4.2l-2.1 -4.2zM464.4 269.8h4.2l-2.1 -4.2zM469.2 269.8h4.2l-2.1 -4.2zM473.1 269.8h4.2l-2.1 -4.2zM429.8 275.6h4.2l-2.1 -4.2zM433.7 275.6h4.2l-2.1 -4.2zM466.4 275.6h4.2l-2.1 -4.2zM470.2 275.6h4.2l-2.1 -4.2zM445.2 273.6h4.2l-2.1 -4.2zM450.0 273.6h4.2l-2.1 -4.2zM454.8 271.7h4.2l-2.1 -4.2zM460.6 270.8h4.2l-2.1 -4.2zM418.3 282.9h4.2l-2.1 -4.2zM477.9 282.9h4.2l-2.1 -4.2zM481.7 282.9h4.2l-2.1 -4.2zM441.4 290.6h4.2l-2.1 -4.2zM459.6 290.9h4.2l-2.1 -4.2zM445.6 294.5h4.2l-2.1 -4.2zM449.9 294.5h4.2l-2.1 -4.2zM454.2 294.5h4.2l-2.1 -4.2zM436.9 301.7h4.2l-2.1 -4.2zM441.3 301.7h4.2l-2.1 -4.2zM448.0 301.7h4.2l-2.1 -4.2zM454.2 301.7h4.2l-2.1 -4.2zM458.6 301.7h4.2l-2.1 -4.2zM463.9 301.7h4.2l-2.1 -4.2zM443.7 305.1h4.2l-2.1 -4.2zM452.3 305.1h4.2l-2.1 -4.2zM456.7 305.1h4.2l-2.1 -4.2zM448.0 308.9h4.2l-2.1 -4.2zM434.5 312.3h4.2l-2.1 -4.2zM439.3 312.3h4.2l-2.1 -4.2zM460.9 312.3h4.2l-2.1 -4.2zM465.4 312.3h4.2l-2.1 -4.2zM443.7 315.7h4.2l-2.1 -4.2zM448.0 315.7h4.2l-2.1 -4.2zM452.3 315.7h4.2l-2.1 -4.2zM456.7 315.7h4.2l-2.1 -4.2zM418.2 318.1h4.2l-2.1 -4.2zM482.6 318.1h4.2l-2.1 -4.2zM438.0 280.4h4.2l-2.1 -4.2zM442.8 280.4h4.2l-2.1 -4.2zM447.5 280.4h4.2l-2.1 -4.2zM452.3 280.4h4.2l-2.1 -4.2zM457.0 280.4h4.2l-2.1 -4.2zM461.8 280.4h4.2l-2.1 -4.2zM421.0 286.7h4.2l-2.1 -4.2zM425.6 286.7h4.2l-2.1 -4.2zM430.1 286.7h4.2l-2.1 -4.2zM434.7 286.7h4.2l-2.1 -4.2zM439.3 286.7h4.2l-2.1 -4.2zM443.8 286.7h4.2l-2.1 -4.2zM448.4 286.7h4.2l-2.1 -4.2zM453.0 286.7h4.2l-2.1 -4.2zM457.5 286.7h4.2l-2.1 -4.2zM462.1 286.7h4.2l-2.1 -4.2zM466.7 286.7h4.2l-2.1 -4.2zM471.2 286.7h4.2l-2.1 -4.2zM475.8 286.7h4.2l-2.1 -4.2zM418.6 298.1h4.2l-2.1 -4.2zM423.1 298.1h4.2l-2.1 -4.2zM427.7 298.1h4.2l-2.1 -4.2zM432.2 298.1h4.2l-2.1 -4.2zM468.6 298.1h4.2l-2.1 -4.2zM473.1 298.1h4.2l-2.1 -4.2zM477.7 298.1h4.2l-2.1 -4.2zM482.2 298.1h4.2l-2.1 -4.2zM421.0 320.1h4.2l-2.1 -4.2zM424.4 320.1h4.2l-2.1 -4.2zM427.7 320.1h4.2l-2.1 -4.2zM431.1 320.1h4.2l-2.1 -4.2zM434.4 320.1h4.2l-2.1 -4.2zM437.8 320.1h4.2l-2.1 -4.2zM463.0 320.1h4.2l-2.1 -4.2zM466.4 320.1h4.2l-2.1 -4.2zM469.7 320.1h4.2l-2.1 -4.2zM473.1 320.1h4.2l-2.1 -4.2zM476.4 320.1h4.2l-2.1 -4.2zM479.8 320.1h4.2l-2.1 -4.2zM421.0 322.9h4.2l-2.1 -4.2zM424.4 322.9h4.2l-2.1 -4.2zM427.7 322.9h4.2l-2.1 -4.2zM431.1 322.9h4.2l-2.1 -4.2zM434.4 322.9h4.2l-2.1 -4.2zM437.8 322.9h4.2l-2.1 -4.2zM463.0 322.9h4.2l-2.1 -4.2zM466.4 322.9h4.2l-2.1 -4.2zM469.7 322.9h4.2l-2.1 -4.2zM473.1 322.9h4.2l-2.1 -4.2zM476.4 322.9h4.2l-2.1 -4.2zM479.8 322.9h4.2l-2.1 -4.2zM442.0 322.1h4.2l-2.1 -4.2zM446.2 322.1h4.2l-2.1 -4.2zM450.4 322.1h4.2l-2.1 -4.2zM454.6 322.1h4.2l-2.1 -4.2zM458.8 322.1h4.2l-2.1 -4.2zM440.0 326.2h4.2l-2.1 -4.2zM443.5 326.2h4.2l-2.1 -4.2zM446.9 326.2h4.2l-2.1 -4.2zM450.4 326.2h4.2l-2.1 -4.2zM453.9 326.2h4.2l-2.1 -4.2zM457.3 326.2h4.2l-2.1 -4.2zM460.8 326.2h4.2l-2.1 -4.2zM421.0 330.6h4.2l-2.1 -4.2zM425.6 330.6h4.2l-2.1 -4.2zM430.3 330.6h4.2l-2.1 -4.2zM470.5 330.6h4.2l-2.1 -4.2zM475.1 330.6h4.2l-2.1 -4.2zM479.8 330.6h4.2l-2.1 -4.2zM433.5 333.9h4.2l-2.1 -4.2zM438.3 333.9h4.2l-2.1 -4.2zM443.2 333.9h4.2l-2.1 -4.2zM448.0 333.9h4.2l-2.1 -4.2zM452.8 333.9h4.2l-2.1 -4.2zM457.6 333.9h4.2l-2.1 -4.2zM462.5 333.9h4.2l-2.1 -4.2zM467.3 333.9h4.2l-2.1 -4.2zM442.0 343.1h4.2l-2.1 -4.2zM446.2 343.1h4.2l-2.1 -4.2zM450.4 343.1h4.2l-2.1 -4.2zM454.6 343.1h4.2l-2.1 -4.2zM458.8 343.1h4.2l-2.1 -4.2zM421.0 344.6h4.2l-2.1 -4.2zM425.7 344.6h4.2l-2.1 -4.2zM430.4 344.6h4.2l-2.1 -4.2zM435.0 344.6h4.2l-2.1 -4.2zM439.7 344.6h4.2l-2.1 -4.2zM444.4 344.6h4.2l-2.1 -4.2zM449.1 344.6h4.2l-2.1 -4.2zM453.7 344.6h4.2l-2.1 -4.2zM458.4 344.6h4.2l-2.1 -4.2zM463.1 344.6h4.2l-2.1 -4.2zM467.8 344.6h4.2l-2.1 -4.2zM472.4 344.6h4.2l-2.1 -4.2zM477.1 344.6h4.2l-2.1 -4.2zM481.8 344.6h4.2l-2.1 -4.2zM440.0 361.6h4.2l-2.1 -4.2zM443.5 361.6h4.2l-2.1 -4.2zM446.9 361.6h4.2l-2.1 -4.2zM450.4 361.6h4.2l-2.1 -4.2zM453.9 361.6h4.2l-2.1 -4.2zM457.3 361.6h4.2l-2.1 -4.2zM460.8 361.6h4.2l-2.1 -4.2zM440.0 369.6h4.2l-2.1 -4.2zM443.5 369.6h4.2l-2.1 -4.2zM446.9 369.6h4.2l-2.1 -4.2zM450.4 369.6h4.2l-2.1 -4.2zM453.9 369.6h4.2l-2.1 -4.2zM457.3 369.6h4.2l-2.1 -4.2zM460.8 369.6h4.2l-2.1 -4.2zM436.0 382.6h4.2l-2.1 -4.2zM439.6 382.6h4.2l-2.1 -4.2zM443.2 382.6h4.2l-2.1 -4.2zM446.8 382.6h4.2l-2.1 -4.2zM450.4 382.6h4.2l-2.1 -4.2zM454.0 382.6h4.2l-2.1 -4.2zM457.6 382.6h4.2l-2.1 -4.2zM461.2 382.6h4.2l-2.1 -4.2zM464.8 382.6h4.2l-2.1 -4.2zM421.0 372.8h4.2l-2.1 -4.2zM424.5 372.8h4.2l-2.1 -4.2zM427.9 372.8h4.2l-2.1 -4.2zM431.4 372.8h4.2l-2.1 -4.2zM434.8 372.8h4.2l-2.1 -4.2zM438.3 372.8h4.2l-2.1 -4.2zM441.8 372.8h4.2l-2.1 -4.2zM445.2 372.8h4.2l-2.1 -4.2zM448.7 372.8h4.2l-2.1 -4.2zM452.1 372.8h4.2l-2.1 -4.2zM455.6 372.8h4.2l-2.1 -4.2zM459.0 372.8h4.2l-2.1 -4.2zM462.5 372.8h4.2l-2.1 -4.2zM466.0 372.8h4.2l-2.1 -4.2zM469.4 372.8h4.2l-2.1 -4.2zM472.9 372.8h4.2l-2.1 -4.2zM476.3 372.8h4.2l-2.1 -4.2zM479.8 372.8h4.2l-2.1 -4.2zM443.5 456.9h4.2l-2.1 -4.2zM446.9 456.9h4.2l-2.1 -4.2zM450.4 456.9h4.2l-2.1 -4.2zM453.8 456.9h4.2l-2.1 -4.2zM457.3 456.9h4.2l-2.1 -4.2zM442.0 463.7h4.2l-2.1 -4.2zM445.4 463.7h4.2l-2.1 -4.2zM448.7 463.7h4.2l-2.1 -4.2zM452.1 463.7h4.2l-2.1 -4.2zM455.4 463.7h4.2l-2.1 -4.2zM458.8 463.7h4.2l-2.1 -4.2zM440.0 470.7h4.2l-2.1 -4.2zM443.1 470.7h4.2l-2.1 -4.2zM446.3 470.7h4.2l-2.1 -4.2zM449.4 470.7h4.2l-2.1 -4.2zM452.5 470.7h4.2l-2.1 -4.2zM455.7 470.7h4.2l-2.1 -4.2zM458.8 470.7h4.2l-2.1 -4.2zM448.0 477.6h4.2l-2.1 -4.2zM451.8 477.6h4.2l-2.1 -4.2zM448.0 484.6h4.2l-2.1 -4.2zM451.8 484.6h4.2l-2.1 -4.2zM446.0 497.9h4.2l-2.1 -4.2zM449.9 497.9h4.2l-2.1 -4.2zM453.8 497.9h4.2l-2.1 -4.2zM419.4 510.6h4.2l-2.1 -4.2zM424.2 510.6h4.2l-2.1 -4.2zM429.0 510.6h4.2l-2.1 -4.2zM433.8 510.6h4.2l-2.1 -4.2zM438.5 510.6h4.2l-2.1 -4.2zM443.3 510.6h4.2l-2.1 -4.2zM448.1 510.6h4.2l-2.1 -4.2zM452.9 510.6h4.2l-2.1 -4.2zM457.7 510.6h4.2l-2.1 -4.2zM462.5 510.6h4.2l-2.1 -4.2zM467.2 510.6h4.2l-2.1 -4.2zM472.0 510.6h4.2l-2.1 -4.2zM476.8 510.6h4.2l-2.1 -4.2zM481.6 510.6h4.2l-2.1 -4.2zM419.4 517.7h4.2l-2.1 -4.2zM422.9 517.7h4.2l-2.1 -4.2zM426.3 517.7h4.2l-2.1 -4.2zM429.8 517.7h4.2l-2.1 -4.2zM433.2 517.7h4.2l-2.1 -4.2zM436.7 517.7h4.2l-2.1 -4.2zM440.1 517.7h4.2l-2.1 -4.2zM443.6 517.7h4.2l-2.1 -4.2zM447.0 517.7h4.2l-2.1 -4.2zM450.5 517.7h4.2l-2.1 -4.2zM454.0 517.7h4.2l-2.1 -4.2zM457.4 517.7h4.2l-2.1 -4.2zM460.9 517.7h4.2l-2.1 -4.2zM464.3 517.7h4.2l-2.1 -4.2zM467.8 517.7h4.2l-2.1 -4.2zM471.2 517.7h4.2l-2.1 -4.2zM474.7 517.7h4.2l-2.1 -4.2zM478.1 517.7h4.2l-2.1 -4.2zM481.6 517.7h4.2l-2.1 -4.2zM421.3 524.3h4.2l-2.1 -4.2zM426.2 524.3h4.2l-2.1 -4.2zM431.0 524.3h4.2l-2.1 -4.2zM435.9 524.3h4.2l-2.1 -4.2zM440.7 524.3h4.2l-2.1 -4.2zM445.6 524.3h4.2l-2.1 -4.2zM450.4 524.3h4.2l-2.1 -4.2zM455.3 524.3h4.2l-2.1 -4.2zM460.2 524.3h4.2l-2.1 -4.2zM465.0 524.3h4.2l-2.1 -4.2zM469.9 524.3h4.2l-2.1 -4.2zM474.7 524.3h4.2l-2.1 -4.2zM479.6 524.3h4.2l-2.1 -4.2zM428.0 531.4h4.2l-2.1 -4.2zM433.0 531.4h4.2l-2.1 -4.2zM438.0 531.4h4.2l-2.1 -4.2zM442.9 531.4h4.2l-2.1 -4.2zM447.9 531.4h4.2l-2.1 -4.2zM452.9 531.4h4.2l-2.1 -4.2zM457.9 531.4h4.2l-2.1 -4.2zM462.8 531.4h4.2l-2.1 -4.2zM467.8 531.4h4.2l-2.1 -4.2zM472.8 531.4h4.2l-2.1 -4.2zM428.0 539.1h4.2l-2.1 -4.2zM433.0 539.1h4.2l-2.1 -4.2zM438.0 539.1h4.2l-2.1 -4.2zM442.9 539.1h4.2l-2.1 -4.2zM447.9 539.1h4.2l-2.1 -4.2zM452.9 539.1h4.2l-2.1 -4.2zM457.9 539.1h4.2l-2.1 -4.2zM462.8 539.1h4.2l-2.1 -4.2zM467.8 539.1h4.2l-2.1 -4.2zM472.8 539.1h4.2l-2.1 -4.2zM432.9 546.3h4.2l-2.1 -4.2zM437.9 546.3h4.2l-2.1 -4.2zM443.0 546.3h4.2l-2.1 -4.2zM448.0 546.3h4.2l-2.1 -4.2zM453.0 546.3h4.2l-2.1 -4.2zM458.0 546.3h4.2l-2.1 -4.2zM463.1 546.3h4.2l-2.1 -4.2zM468.1 546.3h4.2l-2.1 -4.2zM434.8 553.6h4.2l-2.1 -4.2zM439.3 553.6h4.2l-2.1 -4.2zM443.8 553.6h4.2l-2.1 -4.2zM448.3 553.6h4.2l-2.1 -4.2zM452.7 553.6h4.2l-2.1 -4.2zM457.2 553.6h4.2l-2.1 -4.2zM461.7 553.6h4.2l-2.1 -4.2zM466.2 553.6h4.2l-2.1 -4.2zM431.0 560.8h4.2l-2.1 -4.2zM435.9 560.8h4.2l-2.1 -4.2zM440.8 560.8h4.2l-2.1 -4.2zM445.6 560.8h4.2l-2.1 -4.2zM450.5 560.8h4.2l-2.1 -4.2zM455.4 560.8h4.2l-2.1 -4.2zM460.2 560.8h4.2l-2.1 -4.2zM465.1 560.8h4.2l-2.1 -4.2zM470.0 560.8h4.2l-2.1 -4.2zM418.5 567.9h4.2l-2.1 -4.2zM421.9 567.9h4.2l-2.1 -4.2zM425.2 567.9h4.2l-2.1 -4.2zM428.6 567.9h4.2l-2.1 -4.2zM432.0 567.9h4.2l-2.1 -4.2zM435.3 567.9h4.2l-2.1 -4.2zM438.7 567.9h4.2l-2.1 -4.2zM442.1 567.9h4.2l-2.1 -4.2zM445.4 567.9h4.2l-2.1 -4.2zM448.8 567.9h4.2l-2.1 -4.2zM452.2 567.9h4.2l-2.1 -4.2zM455.6 567.9h4.2l-2.1 -4.2zM458.9 567.9h4.2l-2.1 -4.2zM462.3 567.9h4.2l-2.1 -4.2zM465.7 567.9h4.2l-2.1 -4.2zM469.0 567.9h4.2l-2.1 -4.2zM472.4 567.9h4.2l-2.1 -4.2zM475.8 567.9h4.2l-2.1 -4.2zM479.1 567.9h4.2l-2.1 -4.2zM482.5 567.9h4.2l-2.1 -4.2zM421.0 336.9H442.0L440.4 333.5H422.6zM463.0 336.9H484.0L482.4 333.5H464.6zM442.0 338.8H463.0L461.4 335.4H443.6zM419.0 349.4H486.0L484.4 345.0H420.6zM422.0 355.4H483.0L481.4 351.6H423.6zM426.0 358.2H479.0L477.4 354.8H427.6zM420.0 366.1H485.0L483.4 362.2H421.6zM428.8 376.2H476.0L474.4 373.0H430.4zM434.0 379.3H471.0L469.4 376.7H435.6zM418.5 385.4H486.5L484.9 381.6H420.1zM421.0 389.4H484.0L482.4 386.2H422.6zM419.0 393.8H486.0L484.4 389.8H420.6zM419.0 399.7H486.0L484.4 395.5H420.6zM419.0 405.0H486.0L484.4 401.2H420.6zM419.0 410.1H486.0L484.4 406.1H420.6zM419.0 415.5H486.0L484.4 411.5H420.6zM419.0 420.9H486.0L484.4 416.9H420.6zM420.0 425.0H485.0L483.4 422.0H421.6zM419.0 430.5H486.0L484.4 426.5H420.6zM419.6 434.6H485.4L483.8 431.4H421.2zM419.0 438.8H486.0L484.4 435.2H420.6zM419.2 445.2H485.8L484.2 441.8H420.8zM440.0 449.2H465.0L463.4 445.2H441.6zM418.5 452.8H486.5L484.9 449.4H420.1zM419.0 459.7H486.0L484.4 456.3H420.6zM419.6 467.1H485.4L483.8 463.5H421.2zM421.7 474.3H483.3L481.7 470.9H423.3zM418.8 481.1H486.2L484.6 477.5H420.4zM419.0 488.6H486.0L484.4 485.2H420.6zM418.8 495.6H486.2L484.6 492.0H420.4zM419.0 502.4H486.0L484.4 499.0H420.6zM422.3 575.0H482.9L481.3 571.2H423.9z"/>
<rect x="113.8" y="516.1" width="68.4" height="3.0" fill="#9e1038"/>
<rect x="215.7" y="502.8" width="68.0" height="3.0" fill="#9e1038"/>
<rect x="317.1" y="539.1" width="67.5" height="3.0" fill="#9e1038"/>
<rect x="418.5" y="427.0" width="68.2" height="3.0" fill="#9e1038"/>
<g font-size="17">
<text x="65.8" y="118.3" text-anchor="end" transform="translate(65.8 118.3) scale(1.1 1) translate(-65.8 -118.3)">30</text>
<text x="65.8" y="272.5" text-anchor="end" transform="translate(65.8 272.5) scale(1.1 1) translate(-65.8 -272.5)">20</text>
<text x="65.8" y="425.3" text-anchor="end" transform="translate(65.8 425.3) scale(1.1 1) translate(-65.8 -425.3)">10</text>
<text x="65.8" y="578.5" text-anchor="end" transform="translate(65.8 578.5) scale(1.1 1) translate(-65.8 -578.5)">0</text>
<text x="147.2" y="621.2" text-anchor="middle">HD</text>
<text x="249.2" y="621.2" text-anchor="middle">P1</text>
<text x="350.2" y="621.2" text-anchor="middle">P2</text>
<text x="454.7" y="621.2" text-anchor="middle">P2</text>
</g>
<g font-size="19.5" stroke="#000" stroke-width="0.35">
<text x="186.2 194.7 203.0 211.4" y="96" text-anchor="middle">****</text>
<text x="235.8 244.2 252.6 261.1" y="63" text-anchor="middle">****</text>
<text x="287.8 296.2 304.6 313.1" y="30" text-anchor="middle">****</text>
<text x="390.0 398.4 406.8 415.2" y="96" text-anchor="middle">****</text>
</g>
<text font-size="19.2" transform="translate(33.8 403.4) rotate(-90) scale(1 1.13)">% SHM per V region</text>
<text font-size="17.5" transform="translate(368.1 773.5) rotate(-90) scale(1.045 1)"><tspan font-style="italic">FAS</tspan><tspan font-size="12.5" dy="-7.7">wt/c.3G &gt; T</tspan></text>
<text font-size="17.5" transform="translate(469.3 773.5) rotate(-90) scale(1.069 1)"><tspan font-style="italic">FAS</tspan><tspan font-size="12.5" dy="-7.7">c.3G &gt; T/c.3G &gt; T</tspan></text>
</svg>
</body></html>
